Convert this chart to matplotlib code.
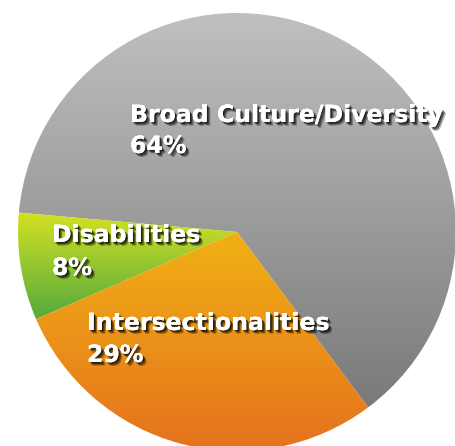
import numpy as np
import matplotlib
matplotlib.use("Agg")
import matplotlib.pyplot as plt
import matplotlib.patheffects as pe
from matplotlib.colors import LinearSegmentedColormap

# Share of sessions by topic
labels = ["Broad Culture/Diversity", "Disabilities", "Intersectionalities"]
values = [64, 8, 29]
pct_labels = ["64%", "8%", "29%"]

# top / bottom colour of each slice's vertical gradient
top_colors = ["#c0c0c0", "#d4e123", "#f0b114"]
bottom_colors = ["#7a7a7a", "#55aa3d", "#e5711e"]

W, H = 455, 446
fig = plt.figure(figsize=(W / 100, H / 100), dpi=100)
ax = fig.add_axes([0, 0, 1, 1])

cx, cy, r = 237, 214, 219
wedges, _ = ax.pie(values, startangle=306.8, counterclock=True,
                   center=(cx, cy), radius=r, frame=True,
                   wedgeprops=dict(linewidth=0))
ax.set_xlim(0, W)
ax.set_ylim(0, H)
ax.set_aspect("equal")
ax.axis("off")

# fill every wedge with a vertical gradient clipped to the wedge shape
grad = np.linspace(0, 1, 256).reshape(-1, 1)
for w, c0, c1 in zip(wedges, top_colors, bottom_colors):
    w.set_facecolor("none")
    ys = w.get_path().vertices[:, 1]
    y0, y1 = ys.min(), ys.max()
    cmap = LinearSegmentedColormap.from_list("g", [c1, c0])
    im = ax.imshow(grad, cmap=cmap, origin="lower", aspect="auto",
                   extent=[cx - r, cx + r, y0, y1], zorder=1)
    im.set_clip_path(w)
    w.set_zorder(2)

# white text with a soft dark drop shadow
shadow = [pe.withSimplePatchShadow(offset=(2.6, -2.6), shadow_rgbFace="black", alpha=0.3),
          pe.withSimplePatchShadow(offset=(1.8, -1.8), shadow_rgbFace="black", alpha=0.45),
          pe.withSimplePatchShadow(offset=(1.0, -1.0), shadow_rgbFace="black", alpha=0.5),
          pe.Normal()]

text_pos = [(130, 324, 293), (52, 204, 171), (87, 116, 84)]
for lab, pct, (x, y1, y2) in zip(labels, pct_labels, text_pos):
    for s, y in ((lab, y1), (pct, y2)):
        ax.text(x, y, s, color="white", fontsize=17, fontweight="bold",
                family="DejaVu Sans", ha="left", va="baseline",
                path_effects=shadow, zorder=5)

fig.savefig("out.png", dpi=100)
